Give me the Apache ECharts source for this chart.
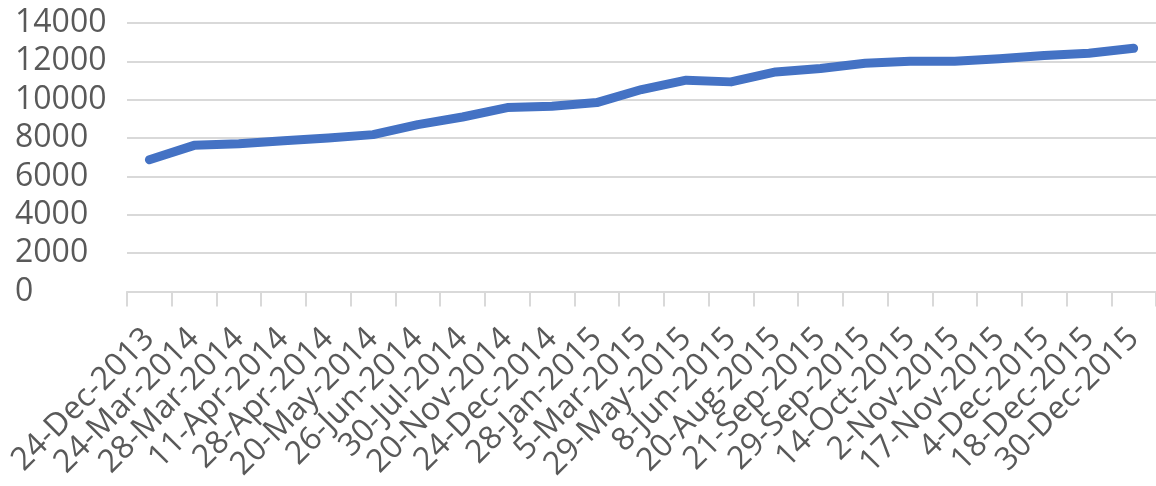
<!DOCTYPE html>
<html>
<head>
<meta charset="utf-8">
<script src="https://cdn.jsdelivr.net/npm/echarts@6/dist/echarts.min.js"></script>
<style>
  html, body { margin: 0; padding: 0; background: #ffffff; }
  #chart { width: 1156px; height: 486px; }
</style>
</head>
<body>
<div id="chart"></div>
<script>
// Dates of each observation (category axis)
const dates = [
  '24-Dec-2013', '24-Mar-2014', '28-Mar-2014', '11-Apr-2014', '28-Apr-2014',
  '20-May-2014', '26-Jun-2014', '30-Jul-2014', '20-Nov-2014', '24-Dec-2014',
  '28-Jan-2015', '5-Mar-2015', '29-May-2015', '8-Jun-2015', '20-Aug-2015',
  '21-Sep-2015', '29-Sep-2015', '14-Oct-2015', '2-Nov-2015', '17-Nov-2015',
  '4-Dec-2015', '18-Dec-2015', '30-Dec-2015'
];

// Value recorded on each date
const values = [
  6870, 7620, 7700, 7860, 8000,
  8180, 8700, 9100, 9590, 9660,
  9850, 10530, 11020, 10930, 11450,
  11630, 11900, 12000, 12000, 12140,
  12310, 12420, 12680
];

// Value axis range
const yMin = 0;
const yMax = 14000;
const yStep = 2000;

const labelColor = '#595959';
const gridColor = '#d9d9d9';
const fontFamily = '"Open Sans", "Liberation Sans", sans-serif';

const chart = echarts.init(document.getElementById('chart'), null, { renderer: 'canvas' });

chart.setOption({
  animation: false,
  backgroundColor: '#ffffff',
  grid: {
    left: 127,
    right: -1,
    top: 23,
    bottom: 194.5,
    containLabel: false
  },
  xAxis: {
    type: 'category',
    data: dates,
    boundaryGap: true,
    axisLine: { show: true, lineStyle: { color: gridColor, width: 2 } },
    axisTick: { show: true, length: 15, lineStyle: { color: gridColor, width: 2 } },
    axisLabel: {
      interval: 0,
      rotate: 45,
      margin: 42,
      color: labelColor,
      fontFamily: fontFamily,
      fontSize: 32
    },
    splitLine: { show: false }
  },
  yAxis: {
    type: 'value',
    min: yMin,
    max: yMax,
    interval: yStep,
    axisLine: { show: false },
    axisTick: { show: false },
    axisLabel: {
      align: 'left',
      margin: 112,
      color: labelColor,
      fontFamily: fontFamily,
      fontSize: 32,
      formatter: (v) => String(v)
    },
    splitLine: { show: true, lineStyle: { color: gridColor, width: 2 } }
  },
  series: [{
    type: 'line',
    data: values,
    symbol: 'none',
    smooth: false,
    lineStyle: { color: '#4472C4', width: 9, cap: 'round', join: 'round' }
  }]
});
</script>
</body>
</html>
